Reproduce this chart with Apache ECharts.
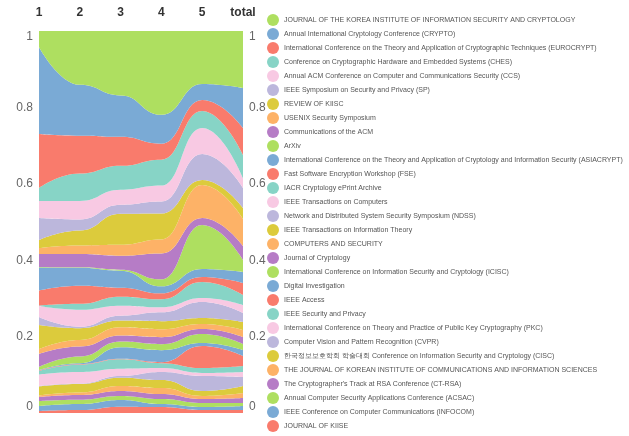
<!DOCTYPE html>
<html>
<head>
<meta charset="utf-8">
<script src="https://cdn.jsdelivr.net/npm/echarts@6/dist/echarts.min.js"></script>
<style>
  html, body { margin: 0; padding: 0; background: #fff; }
  #chart { width: 629px; height: 436px; }
</style>
</head>
<body>
<div id="chart"></div>
<script>
// categories on the top axis
const categories = ['1', '2', '3', '4', '5', 'total'];

// legend order = top-to-bottom stacking order
const names = [
  'JOURNAL OF THE KOREA INSTITUTE OF INFORMATION SECURITY AND CRYPTOLOGY',
  'Annual International Cryptology Conference (CRYPTO)',
  'International Conference on the Theory and Application of Cryptographic Techniques (EUROCRYPT)',
  'Conference on Cryptographic Hardware and Embedded Systems (CHES)',
  'Annual ACM Conference on Computer and Communications Security (CCS)',
  'IEEE Symposium on Security and Privacy (SP)',
  'REVIEW OF KIISC',
  'USENIX Security Symposium',
  'Communications of the ACM',
  'ArXiv',
  'International Conference on the Theory and Application of Cryptology and Information Security (ASIACRYPT)',
  'Fast Software Encryption Workshop (FSE)',
  'IACR Cryptology ePrint Archive',
  'IEEE Transactions on Computers',
  'Network and Distributed System Security Symposium (NDSS)',
  'IEEE Transactions on Information Theory',
  'COMPUTERS AND SECURITY',
  'Journal of Cryptology',
  'International Conference on Information Security and Cryptology (ICISC)',
  'Digital Investigation',
  'IEEE Access',
  'IEEE Security and Privacy',
  'International Conference on Theory and Practice of Public Key Cryptography (PKC)',
  'Computer Vision and Pattern Recognition (CVPR)',
  '한국정보보호학회 학술대회 Conference on Information Security and Cryptology (CISC)',
  'THE JOURNAL OF KOREAN INSTITUTE OF COMMUNICATIONS AND INFORMATION SCIENCES',
  "The Cryptographer's Track at RSA Conference (CT-RSA)",
  'Annual Computer Security Applications Conference (ACSAC)',
  'IEEE Conference on Computer Communications (INFOCOM)',
  'JOURNAL OF KIISE'
];

// relative weight of each venue per category (legend order)
const v1 = [16, 87, 54, 13, 17, 22, 8, 6, 13, 0.5, 23, 15, 0.5, 11, 8, 24, 5, 13, 3, 0.5, 0.5, 3.5, 11.5, 0.5, 9, 1.5, 4, 5, 5, 2];
const v2 = [54, 51, 38, 27.5, 18.5, 11, 15, 8.7, 13.3, 0.5, 18, 18, 6, 17, 1.6, 11.7, 6.7, 10, 6.6, 1, 0.5, 7.4, 11.6, 0.5, 8.4, 2.6, 4.7, 4.3, 6, 3];
const v3 = [64.5, 41.5, 29, 24, 15, 9, 31, 11, 14, 1, 17, 9, 9, 10, 5, 6.7, 8.3, 6, 5.7, 11.6, 0.5, 9.4, 7.3, 1.7, 8.3, 5, 5, 4, 6.7, 6.3];
const v4 = [84, 29, 16, 26, 16, 12, 26, 14, 26, 7, 7, 6, 8, 5, 9, 8, 8, 7, 6, 12, 1, 5, 4, 8, 8, 6, 5, 5, 3, 6];
const v5 = [53, 16, 11, 17, 26, 26, 5, 33, 7, 44, 8, 5, 16, 4, 16, 6, 5, 5, 9, 3, 22, 5, 3, 15, 5, 3, 4, 4, 3, 3];
const vTotal = [57, 40, 27, 23, 10, 20, 11, 27, 14, 12, 11, 12, 10, 8, 9, 8, 7, 7, 6, 6, 10, 6, 5, 9, 7, 5, 5, 3, 4, 3];

const palette = ['#aedf60', '#7aaad5', '#f97b6c', '#87d4c6', '#f8c9e3', '#bcb7dc', '#dccb3c', '#fdb267', '#b67cc6'];

const columns = [v1, v2, v3, v4, v5, vTotal];
const sums = columns.map(c => c.reduce((a, b) => a + b, 0));

const font = '"Liberation Sans", Arial, sans-serif';

var myChart = echarts.init(document.getElementById('chart'));

// ECharts stacks from the first series upward, so add them bottom-first
const series = [];
for (let i = names.length - 1; i >= 0; i--) {
  series.push({
    name: names[i],
    type: 'line',
    stack: 'all',
    smooth: 0.5,
    smoothMonotone: 'x',
    symbol: 'none',
    lineStyle: { width: 0 },
    areaStyle: { opacity: 1 },
    itemStyle: { color: palette[i % palette.length] },
    data: columns.map((c, j) => c[i] / sums[j])
  });
}

const yLabel = {
  color: '#666',
  fontSize: 12,
  fontFamily: font,
  margin: 6,
  verticalAlignMinLabel: 'bottom',
  verticalAlignMaxLabel: 'top'
};

const option = {
  animation: false,
  grid: { left: 39, right: 386, top: 31, bottom: 23 },
  legend: {
    orient: 'vertical',
    left: 267,
    top: 14,
    padding: 0,
    icon: 'circle',
    itemWidth: 12,
    itemHeight: 12,
    itemGap: 2,
    data: names,
    textStyle: { color: '#555', fontSize: 7, fontFamily: font }
  },
  xAxis: {
    type: 'category',
    position: 'top',
    boundaryGap: false,
    data: categories,
    axisLine: { show: false },
    axisTick: { show: false },
    axisLabel: { color: '#333', fontSize: 12, fontWeight: 'bold', fontFamily: font, margin: 12 }
  },
  yAxis: [
    { type: 'value', min: 0, max: 1, interval: 0.2, position: 'left',
      axisLine: { show: false }, axisTick: { show: false }, splitLine: { show: false },
      axisLabel: yLabel },
    { type: 'value', min: 0, max: 1, interval: 0.2, position: 'right',
      axisLine: { show: false }, axisTick: { show: false }, splitLine: { show: false },
      axisLabel: yLabel }
  ],
  series: series
};

myChart.setOption(option);
window.addEventListener('resize', () => myChart.resize());
</script>
</body>
</html>
